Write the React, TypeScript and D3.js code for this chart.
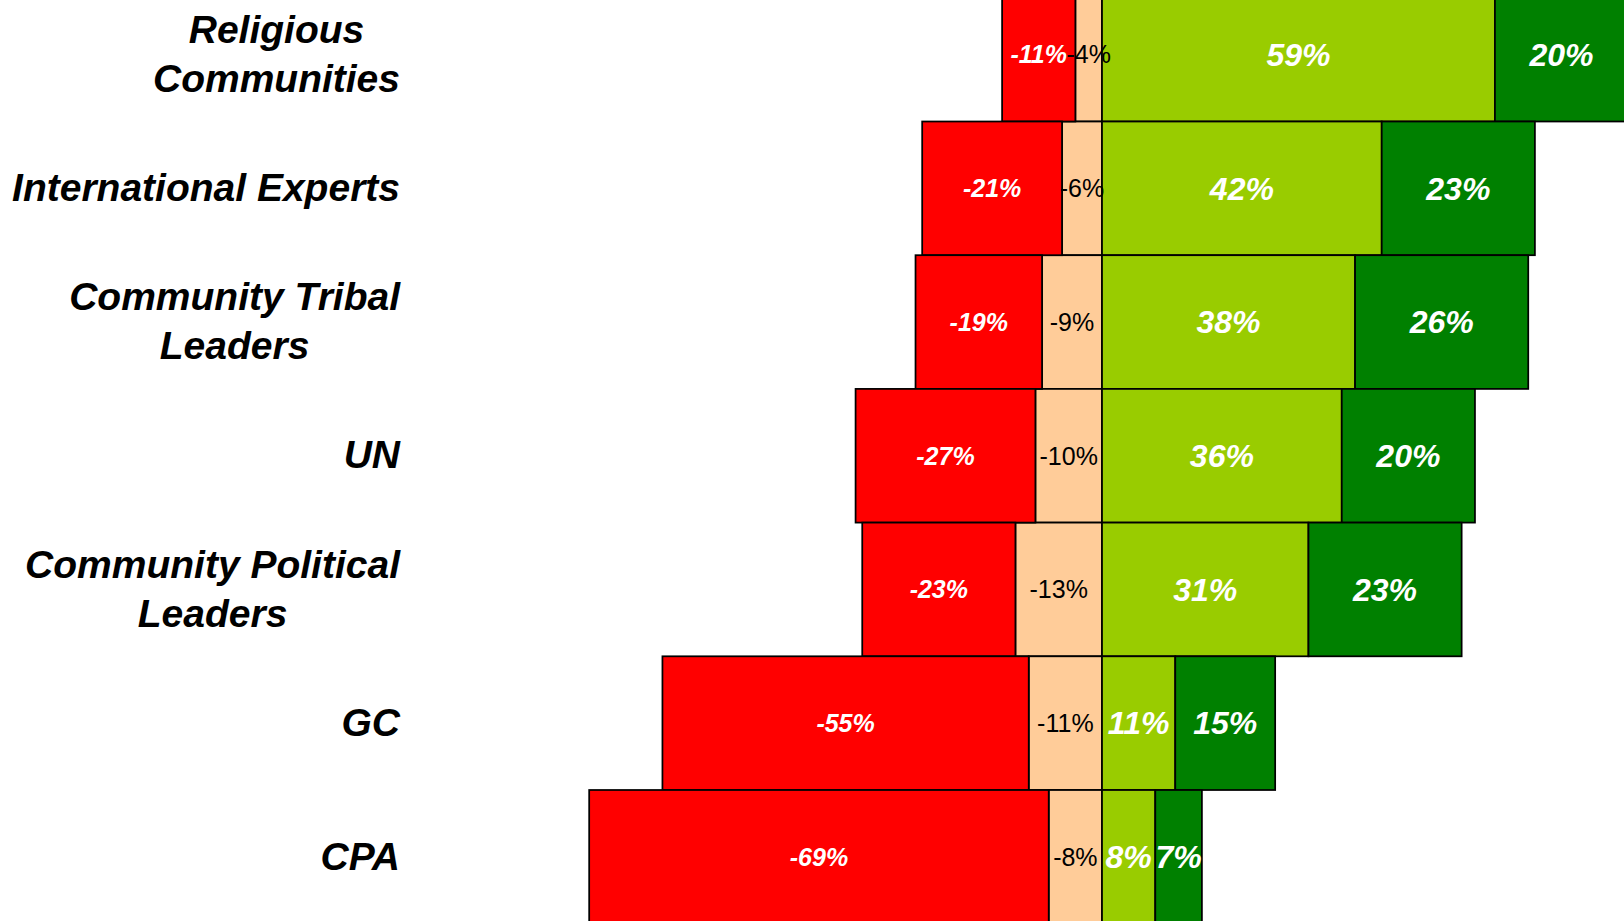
import React, { useEffect, useRef } from 'react';
import * as d3 from 'd3';

// chart data
const categories = [
  'Religious\nCommunities',
  'International Experts',
  'Community Tribal\nLeaders',
  'UN',
  'Community Political\nLeaders',
  'GC',
  'CPA',
];
const stronglyNegative = [-11, -21, -19, -27, -23, -55, -69];
const somewhatNegative = [-4, -6, -9, -10, -13, -11, -8];
const somewhatPositive = [59, 42, 38, 36, 31, 11, 8];
const stronglyPositive = [20, 23, 26, 20, 23, 15, 7];
const xDomain = [-100, 100];

const seriesKeys = ['somewhatNegative', 'stronglyNegative', 'somewhatPositive', 'stronglyPositive'];
const seriesColors = {
  somewhatNegative: '#FFCC99',
  stronglyNegative: '#FF0000',
  somewhatPositive: '#99CC00',
  stronglyPositive: '#008000',
};
const labelStyle = {
  somewhatNegative: { fill: '#000', size: 25, weight: 'normal', italic: false },
  stronglyNegative: { fill: '#fff', size: 25, weight: 'bold', italic: true },
  somewhatPositive: { fill: '#fff', size: 32, weight: 'bold', italic: true },
  stronglyPositive: { fill: '#fff', size: 32, weight: 'bold', italic: true },
};

const width = 1624;
const height = 921;
const font = '"Liberation Sans", Arial, sans-serif';

const App = () => {
  const svgRef = useRef(null);

  useEffect(() => {
    document.body.style.margin = '0';
    document.body.style.overflow = 'hidden';

    const svg = d3.select(svgRef.current);
    svg.selectAll('*').remove();

    const rows = categories.map((c, i) => ({
      category: c,
      stronglyNegative: stronglyNegative[i],
      somewhatNegative: somewhatNegative[i],
      somewhatPositive: somewhatPositive[i],
      stronglyPositive: stronglyPositive[i],
    }));

    const xScale = d3.scaleLinear().domain(xDomain).range([436, 1768]);
    const yScale = d3
      .scaleBand()
      .domain(categories)
      .range([-12.2, 923.7])
      .padding(0);

    const stacked = d3
      .stack()
      .keys(seriesKeys)
      .offset(d3.stackOffsetDiverging)(rows);

    // bars
    const series = svg
      .append('g')
      .selectAll('g')
      .data(stacked)
      .join('g')
      .attr('fill', (s) => seriesColors[s.key]);

    series
      .selectAll('rect')
      .data((s) => s)
      .join('rect')
      .attr('x', (d) => xScale(Math.min(d[0], d[1])))
      .attr('width', (d) => Math.abs(xScale(d[1]) - xScale(d[0])))
      .attr('y', (d) => yScale(d.data.category))
      .attr('height', yScale.bandwidth())
      .attr('stroke', '#000')
      .attr('stroke-width', 1.75);

    // value labels on top of all bars
    const labels = svg.append('g').attr('font-family', font);
    stacked.forEach((s) => {
      const st = labelStyle[s.key];
      labels
        .append('g')
        .selectAll('text')
        .data(s)
        .join('text')
        .attr('x', (d) => (xScale(d[0]) + xScale(d[1])) / 2)
        .attr('y', (d) => yScale(d.data.category) + yScale.bandwidth() / 2)
        .attr('dy', '0.35em')
        .attr('text-anchor', 'middle')
        .attr('fill', st.fill)
        .attr('font-size', st.size)
        .attr('font-weight', st.weight)
        .attr('font-style', st.italic ? 'italic' : 'normal')
        .text((d) => `${d.data[s.key]}%`);
    });

    // category labels, lines centred on each other, block right aligned
    const labelRight = 400;
    const lineGap = 49;
    const cats = svg.append('g').attr('font-family', font);
    categories.forEach((c) => {
      const lines = c.split('\n');
      const cy = yScale(c) + yScale.bandwidth() / 2 - 1;
      const g = cats.append('g');
      const texts = lines.map((line, i) =>
        g
          .append('text')
          .attr('y', cy + (i - (lines.length - 1) / 2) * lineGap)
          .attr('dy', '0.35em')
          .attr('font-size', 39)
          .attr('font-weight', 'bold')
          .attr('font-style', 'italic')
          .attr('fill', '#000')
          .attr('text-anchor', 'middle')
          .text(line)
      );
      const maxW = d3.max(texts, (t) => t.node().getComputedTextLength());
      texts.forEach((t) => t.attr('x', labelRight - maxW / 2));
    });
  }, []);

  return <svg ref={svgRef} width={width} height={height} style={{ display: 'block' }} />;
};

export default App;
